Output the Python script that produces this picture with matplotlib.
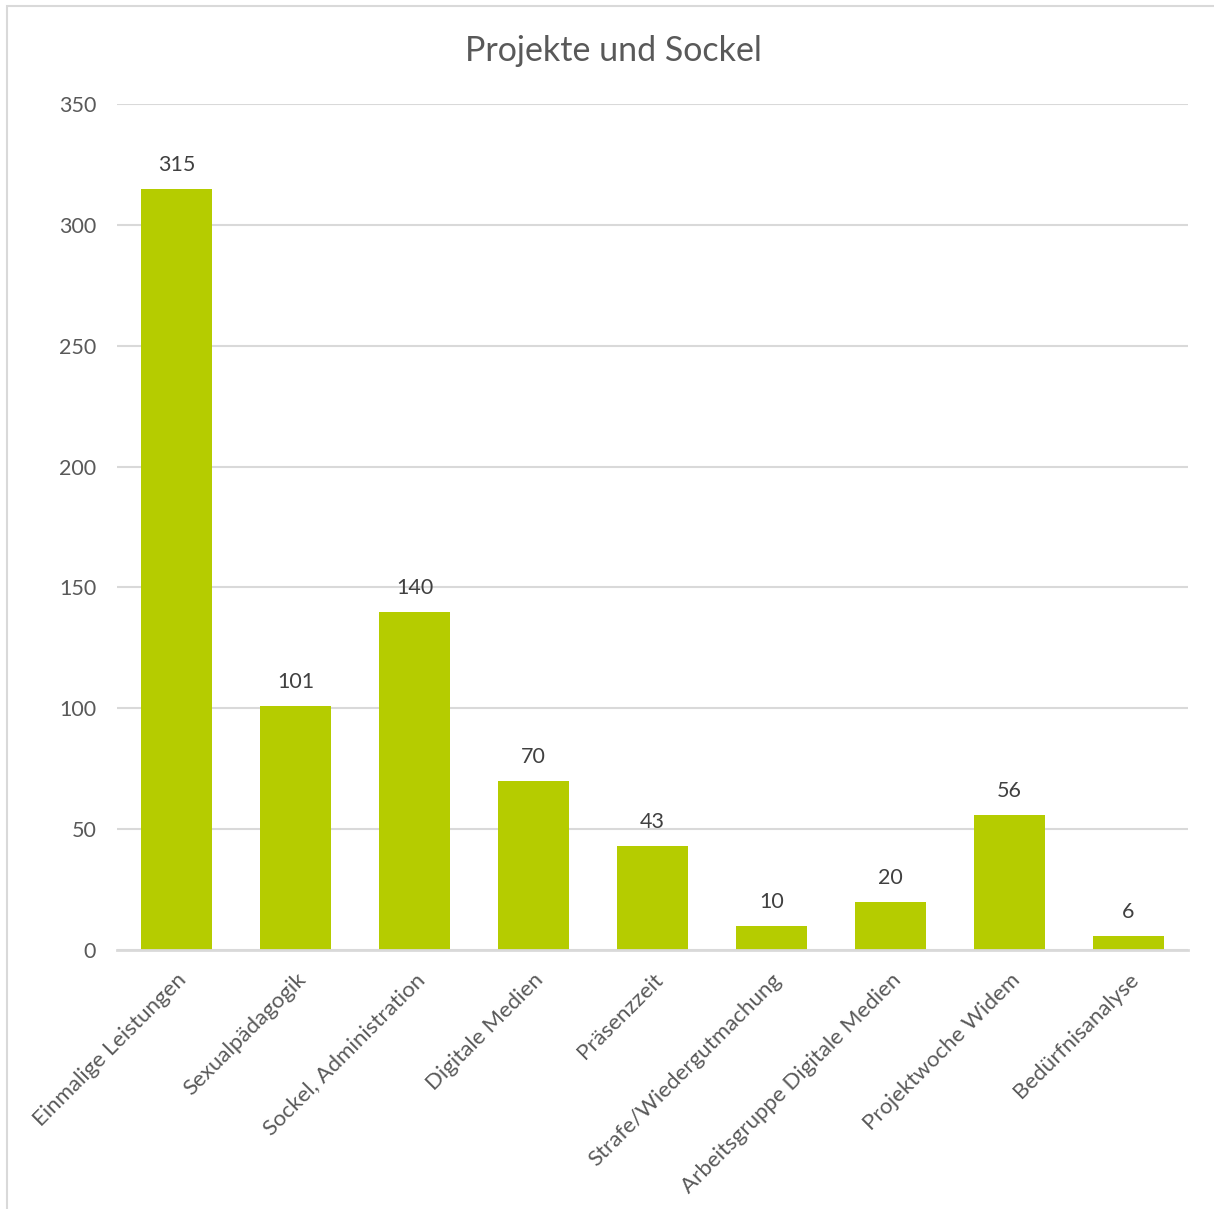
import matplotlib
matplotlib.use("Agg")
import matplotlib.pyplot as plt
from matplotlib.patches import Rectangle

categories = ["Einmalige Leistungen", "Sexualpädagogik", "Sockel, Administration",
              "Digitale Medien", "Präsenzzeit", "Strafe/Wiedergutmachung",
              "Arbeitsgruppe Digitale Medien", "Projektwoche Widem", "Bedürfnisanalyse"]
values = [315, 101, 140, 70, 43, 10, 20, 56, 6]
yticks = [0, 50, 100, 150, 200, 250, 300, 350]

plt.rcParams['font.family'] = ['Lato', 'DejaVu Sans']
txt = '#595959'

fig = plt.figure(figsize=(12.14, 12.09), dpi=100)
ax = fig.add_axes([0.0964, 0.2142, 0.8822, 0.6998])

x = list(range(len(categories)))
bars = ax.bar(x, values, width=0.59, color='#B5CC00', zorder=3)
for xi, v in zip(x, values):
    ax.annotate(str(v), (xi, v), xytext=(0, 10), textcoords='offset points',
                ha='center', va='bottom', fontsize=15.5, color='#404040')

ax.set_xlim(-0.5, len(categories) - 0.5)
ax.set_ylim(0, 350)
ax.set_yticks(yticks)
ax.set_yticklabels([str(t) for t in yticks], fontsize=15.5, color=txt)
ax.set_xticks(x)
ax.set_xticklabels(categories, rotation=45, ha='right', rotation_mode='anchor',
                   fontsize=16, color=txt)
ax.tick_params(axis='both', length=0)
ax.tick_params(axis='y', pad=15)
ax.tick_params(axis='x', pad=14)
ax.grid(axis='y', color='#D9D9D9', linewidth=1.5, zorder=0)
for s in ['top', 'right', 'left']:
    ax.spines[s].set_visible(False)
ax.spines['bottom'].set_color('#D9D9D9')
ax.spines['bottom'].set_linewidth(2)
ax.spines['bottom'].set_zorder(4)

fig.text(0.505, 0.958, "Projekte und Sockel", ha='center', va='center',
         fontsize=24.5, color=txt)

fig.patches.append(Rectangle((7 / 1214, -0.01), 1.1, 1 - 6 / 1209 + 0.01,
                             transform=fig.transFigure, fill=False,
                             edgecolor='#D9D9D9', linewidth=1.5))

fig.savefig("out.png", dpi=100)
